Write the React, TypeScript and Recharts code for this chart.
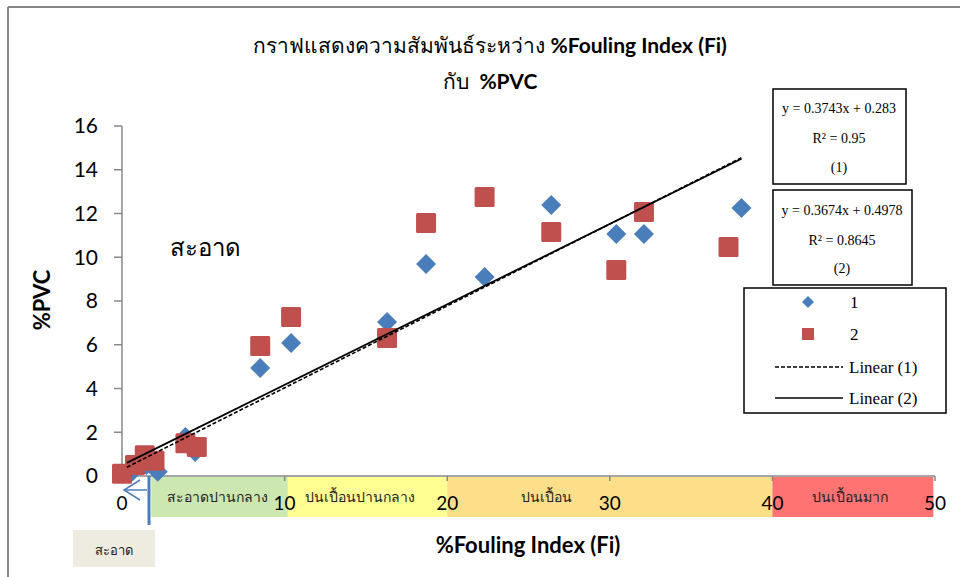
import { ScatterChart, Scatter, XAxis, YAxis, ReferenceArea } from 'recharts';

// ชุดที่ 1 (diamond) และ ชุดที่ 2 (square): x = %Fouling Index, y = %PVC
const series1X = [0.5, 1.5, 2.2, 3.9, 4.5, 8.5, 10.4, 16.3, 18.7, 22.3, 26.4, 30.4, 32.1, 38.1];
const series1Y = [0.1, 0.5, 0.2, 1.78, 1.1, 4.94, 6.08, 7.04, 9.69, 9.1, 12.39, 11.06, 11.06, 12.25];
const series2X = [0.0, 0.8, 1.4, 2.0, 3.9, 4.6, 8.5, 10.4, 16.3, 18.7, 22.3, 26.4, 30.4, 32.1, 37.3];
const series2Y = [0.1, 0.5, 0.95, 0.7, 1.5, 1.33, 5.94, 7.27, 6.31, 11.57, 12.75, 11.15, 9.42, 12.07, 10.47];

// trendline end points
const trend1X = [0.3, 38.1];
const trend1Y = [0.4, 14.55];
const trend2X = [0.3, 38.1];
const trend2Y = [0.6, 14.5];

const xTicks = [0, 10, 20, 30, 40, 50];
const yTicks = [0, 2, 4, 6, 8, 10, 12, 14, 16];

// แถบระดับการปนเปื้อนใต้แกน x
const zoneNames = ['สะอาดปานกลาง', 'ปนเปื้อนปานกลาง', 'ปนเปื้อน', 'ปนเปื้อนมาก'];
const zoneFrom = [1.8, 10.2, 20, 40];
const zoneTo = [10.2, 20, 40, 49.9];
const zoneColors = ['#c4e3a3', '#ffff7f', '#fdd976', '#ff5b5b'];
const zoneLabelOffset = [16, 17, 74, 40];
const zoneTop = -0.05;
const zoneBottom = -1.87;

const toPoints = (xs: number[], ys: number[]) => xs.map((x, i) => ({ x, y: ys[i] }));

const data1 = toPoints(series1X, series1Y);
const data2 = toPoints(series2X, series2Y);
const trend1 = toPoints(trend1X, trend1Y);
const trend2 = toPoints(trend2X, trend2Y);

const BLUE = '#4a7ebb';
const RED = '#c0504d';
const SANS = 'Lato, "Noto Sans", sans-serif';
const SERIF = '"Liberation Serif", "DejaVu Serif", serif';

const Diamond = (p: any) => {
  const { cx, cy } = p;
  const r = 10;
  return <polygon points={`${cx},${cy - r} ${cx + r},${cy} ${cx},${cy + r} ${cx - r},${cy}`} fill={BLUE} />;
};

const Square = (p: any) => (
  <rect x={p.cx - 10} y={p.cy - 10} width={20} height={20} rx={1.5} fill={RED} />
);

const NoShape = () => null;

export default function App() {
  return (
    <div style={{ position: 'absolute', left: 0, top: 0, width: 960, height: 577, background: '#fff' }}>
      <ScatterChart
        width={960}
        height={577}
        margin={{ top: 126, right: 25, left: 60, bottom: 41 }}
      >
        <XAxis
          type="number"
          dataKey="x"
          domain={[0, 50]}
          ticks={xTicks}
          stroke="#888"
          strokeWidth={1.5}
          tickSize={5}
          tickMargin={16}
          height={60}
          tick={{ fill: '#000', fontSize: 19, fontFamily: SANS }}
        />
        <YAxis
          type="number"
          dataKey="y"
          domain={[0, 16]}
          ticks={yTicks}
          stroke="#888"
          strokeWidth={1.5}
          tickSize={8}
          tickMargin={16}
          width={62}
          tick={{ fill: '#000', fontSize: 21, fontFamily: SANS }}
        />
        {zoneNames.map((name, i) => (
          <ReferenceArea
            key={name}
            x1={zoneFrom[i]}
            x2={zoneTo[i]}
            y1={zoneTop}
            y2={zoneBottom}
            ifOverflow="visible"
            fill={zoneColors[i]}
            fillOpacity={0.85}
            stroke="none"
            label={{
              value: name,
              position: 'insideLeft',
              offset: zoneLabelOffset[i],
              fill: '#222',
              fontSize: 14,
              fontFamily: SERIF,
            }}
          />
        ))}
        <Scatter data={data1} shape={Diamond} isAnimationActive={false} />
        <Scatter data={data2} shape={Square} isAnimationActive={false} />
        <Scatter
          data={trend1}
          shape={NoShape}
          line={{ stroke: '#000', strokeWidth: 1.6, strokeDasharray: '4 2' }}
          isAnimationActive={false}
        />
        <Scatter
          data={trend2}
          shape={NoShape}
          line={{ stroke: '#000', strokeWidth: 1.8 }}
          isAnimationActive={false}
        />
      </ScatterChart>

      {/* overlay: frame, titles, equation boxes, legend, notes */}
      <svg width={960} height={577} style={{ position: 'absolute', left: 0, top: 0, pointerEvents: 'none' }}>
        <line x1={8} y1={7} x2={960} y2={7} stroke="#888" strokeWidth={2} />
        <line x1={8} y1={7} x2={8} y2={577} stroke="#888" strokeWidth={2} />

        <text x={490} y={53} textAnchor="middle" fontFamily={SANS} fontSize={21} fill="#000">
          กราฟแสดงความสัมพันธ์ระหว่าง <tspan fontWeight="bold">%Fouling Index (Fi)</tspan>
        </text>
        <text x={490} y={89} textAnchor="middle" fontFamily={SANS} fontSize={21} fill="#000">
          {'กับ\u00a0 '}<tspan fontWeight="bold">%PVC</tspan>
        </text>

        <text x={528} y={553} textAnchor="middle" fontFamily={SANS} fontSize={22} fontWeight="bold" fill="#000">
          %Fouling Index (Fi)
        </text>
        <text
          x={0}
          y={0}
          transform="translate(50,300) rotate(-90)"
          textAnchor="middle"
          fontFamily={SANS}
          fontSize={22}
          fontWeight="bold"
          fill="#000"
        >
          %PVC
        </text>

        <text x={205} y={256} textAnchor="middle" fontFamily={SANS} fontSize={24} fill="#000">
          สะอาด
        </text>

        {/* arrow to "clean" zone */}
        <line x1={149} y1={476} x2={149} y2={525} stroke={BLUE} strokeWidth={3} />
        <line x1={125} y1={490} x2={147} y2={490} stroke={BLUE} strokeWidth={1.5} />
        <polyline points="140,480 124,490 140,500" fill="none" stroke={BLUE} strokeWidth={1.5} />
        <rect x={73} y={530} width={82} height={37} fill="#eeebe0" />
        <text x={114} y={555} textAnchor="middle" fontFamily={SERIF} fontSize={13} fill="#222">
          สะอาด
        </text>

        {/* equation boxes */}
        <rect x={773} y={89} width={133} height={95} fill="#fff" stroke="#000" strokeWidth={1.5} />
        <g fontFamily={SERIF} fontSize={14} fill="#000" textAnchor="middle">
          <text x={839} y={113}>y = 0.3743x + 0.283</text>
          <text x={839} y={143}>R² = 0.95</text>
          <text x={839} y={172}>(1)</text>
        </g>
        <rect x={773} y={190} width={139} height={95} fill="#fff" stroke="#000" strokeWidth={1.5} />
        <g fontFamily={SERIF} fontSize={14} fill="#000" textAnchor="middle">
          <text x={842} y={215}>y = 0.3674x + 0.4978</text>
          <text x={842} y={245}>R² = 0.8645</text>
          <text x={842} y={273}>(2)</text>
        </g>

        {/* legend */}
        <rect x={744} y={288} width={202} height={125} fill="#fff" stroke="#000" strokeWidth={1.5} />
        <polygon points="808,296 814,302 808,308 802,302" fill={BLUE} />
        <rect x={802} y={328} width={12} height={12} fill={RED} />
        <line x1={775} y1={367} x2={843} y2={367} stroke="#000" strokeWidth={1.5} strokeDasharray="4 2" />
        <line x1={775} y1={398} x2={843} y2={398} stroke="#000" strokeWidth={1.5} />
        <g fontFamily={SERIF} fontSize={17} fill="#000">
          <text x={850} y={308}>1</text>
          <text x={850} y={340}>2</text>
          <text x={849} y={373}>Linear (1)</text>
          <text x={849} y={404}>Linear (2)</text>
        </g>
      </svg>
    </div>
  );
}
